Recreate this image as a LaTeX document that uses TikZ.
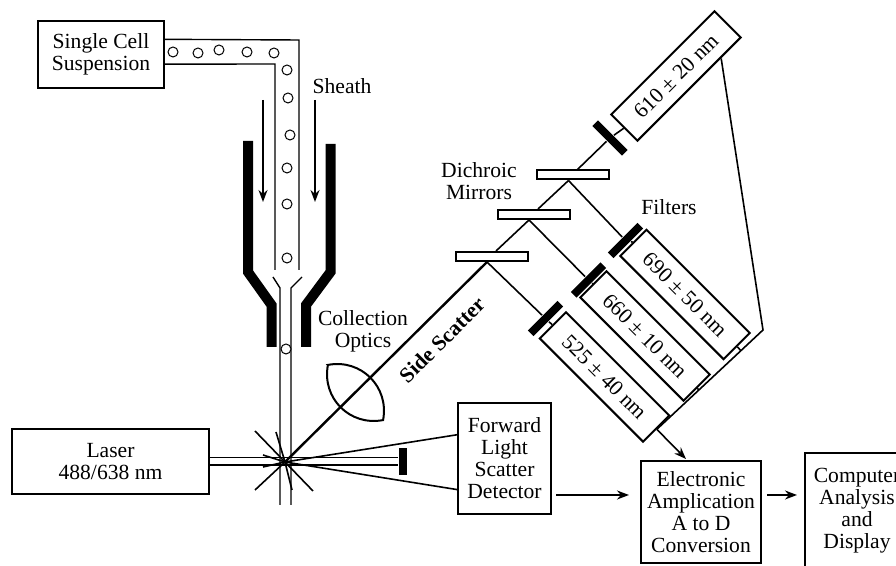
\documentclass[tikz,border=0pt]{standalone}
\usepackage{fontspec}
\setmainfont{Liberation Serif}
\usetikzlibrary{arrows.meta,calc}

\begin{document}
\begin{tikzpicture}[x=0.5pt,y=-0.5pt,line width=0.8pt,>={Stealth[length=6pt,width=4.5pt]}]
	\tikzstyle{txt} = [align=center,inner sep=0pt,font=\fontsize{10.8}{11}\selectfont]
	\tikzstyle{box} = [txt,rectangle,draw,line width=1pt]
	\tikzstyle{pmt} = [box,minimum width=73pt,minimum height=18.5pt]
	\tikzstyle{filt} = [rectangle,fill,minimum width=21pt,minimum height=4pt,inner sep=0pt]
	\tikzstyle{mirror} = [rectangle,draw,fill=white,line width=1pt,minimum width=36pt,minimum height=4.5pt,inner sep=0pt]
	\tikzstyle{tube} = [line width=0.7pt]
	\tikzstyle{cell} = [line width=0.5pt]
	\tikzstyle{wall} = [line width=5pt]

	\useasboundingbox (0,0) rectangle (896,566);
	\clip (0,0) rectangle (896,566);

	\node[box,minimum width=63pt,minimum height=33.5pt] (susp) at (101,54.5) {Single Cell\\Suspension};
	\node[box,minimum width=98.5pt,minimum height=32.5pt] (laser) at (110.5,461.5) {Laser\\488/638 nm};
	\node[box,minimum width=46.5pt,minimum height=55.5pt] (fls) at (504.5,458.5) {Forward\\Light\\Scatter\\Detector};
	\node[box,minimum width=60pt,minimum height=51pt] (elec) at (701,512) {Electronic\\Amplication\\A to D\\Conversion};
	\node[box,minimum width=52pt,minimum height=57.5pt] (comp) at (857,510.5) {Computer\\Analysis\\and\\Display};

	\draw[tube] ($(susp.north east)!0.28!(susp.south east)$) -- (299,40) -- (299,270);
	\draw[tube] ($(susp.north east)!0.64!(susp.south east)$) -- (275,64) -- (275,270);
	\draw[tube] (273,277) -- (280,288) -- (280,505);
	\draw[tube] (302,277) -- (291,288) -- (291,505);
	\foreach \cx/\cy in {173/52,198/53,219/50,247/52,274/53,287/70,288/98,290/135,287/168,287/204,287/258,286/349}
		\draw[cell,fill=white] (\cx,\cy) circle (2.5pt);

	\draw[wall] (248,141) -- (248,272) -- (271.5,305) -- (271.5,347);
	\draw[wall] (330.5,144) -- (330.5,272) -- (306,305) -- (306,347);
	\draw[->] (263,100) -- (263,202);
	\draw[->] (315,100) -- (315,202);
	\node[txt] (sheath) at (342,86) {Sheath};

	\coordinate (c) at (285,462);
	\node[filt,minimum width=4pt,minimum height=13.5pt] (stop) at (403,461.5) {};
	\draw[tube] ([yshift=2pt]laser.east) -- ([yshift=2pt]stop.west);
	\draw[tube] ([yshift=-1.8pt]laser.east) -- ([yshift=-1.8pt]stop.west);
	\foreach \dx/\dy in {-30/-31,-30/28,28/29,-9/-30,7/28,-22/-7,-22/5}
		\draw (c) -- ++(\dx,\dy);
	\draw (c) -- ($(fls.north west)!0.29!(fls.south west)$);
	\draw (c) -- ($(fls.north west)!0.775!(fls.south west)$);

	\begin{scope}[shift={(355.5,392.5)},rotate=-45]
		\draw[line width=1pt] (-39,0) .. controls (-20,28) and (20,28) .. (39,0) .. controls (20,-28) and (-20,-28) .. cycle;
	\end{scope}
	\node[txt] (coll) at (363,331) {Collection\\Optics};

	\node[mirror] (m3) at (491.5,256.5) {};
	\node[mirror] (m2) at (533.5,214.5) {};
	\node[mirror] (m1) at (573,175) {};
	\node[txt] (dich) at (479,181) {Dichroic\\Mirrors};

	\node[filt,rotate=-45] (f610) at (610,138) {};
	\node[filt,rotate=45] (f690) at (625.5,240.5) {};
	\node[filt,rotate=45] (f660) at (588.5,280) {};
	\node[filt,rotate=45] (f525) at (545.5,318.5) {};
	\node[txt] (filters) at (669,207) {Filters};

	\node[pmt,rotate=45] (p610) at (676,76) {610 ± 20 nm};
	\node[pmt,rotate=-45] (p690) at (685,294.5) {690 ± 50 nm};
	\node[pmt,rotate=-45] (p660) at (645,336) {660 ± 10 nm};
	\node[pmt,rotate=-45] (p525) at (604.5,377) {525 ± 40 nm};

	\draw[line width=1.2pt] (c) -- ([xshift=-2.25pt]m3.south);
	\draw ([xshift=2.25pt]m3.north) -- ([xshift=-2.25pt]m2.south);
	\draw ([xshift=2.25pt]m2.north) -- ([xshift=-2.25pt]m1.south);
	\draw ([xshift=2.25pt]m1.north) -- (f610) -- (p610.west);
	\draw ([xshift=-2.25pt]m3.south) -- (f525) -- (p525.west);
	\draw ([xshift=-2.25pt]m2.south) -- (f660) -- (p660.west);
	\draw ([xshift=-2.25pt]m1.south) -- (f690) -- (p690.west);
	\node[txt,font=\fontsize{10.8}{11}\selectfont\bfseries,rotate=45] (side) at (442,340) {Side Scatter};

	\coordinate (j) at (763,330);
	\draw ($(p610.south east)!0.4!(p610.south)$) -- (j) -- (p525.east);
	\draw (p690.east) -- ($(j)!(p690.east)!(p525.east)$);
	\draw (p660.east) -- ($(j)!(p660.east)!(p525.east)$);
	\coordinate (ein) at (686,459);
	\draw[->] (p525.east) -- (ein);

	\coordinate (fwd) at (600,495);
	\draw[->,shorten <=2pt,shorten >=5.5pt] (fwd -| fls.east) -- (fwd -| elec.west);
	\draw[->,shorten <=2.5pt,shorten >=3.5pt] (fwd -| elec.east) -- (fwd -| comp.west);
\end{tikzpicture}
\end{document}
